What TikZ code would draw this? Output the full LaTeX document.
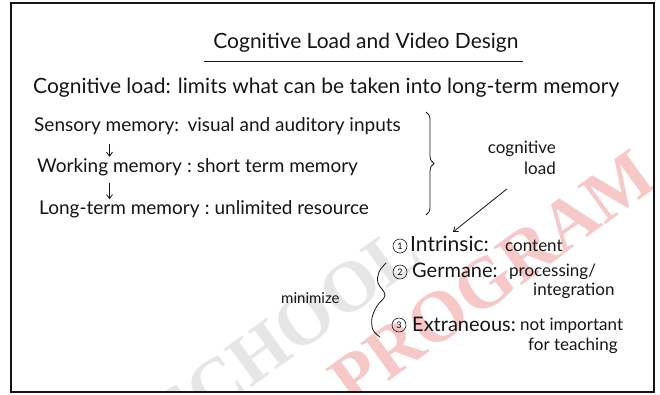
\documentclass[tikz,border=0pt]{standalone}
\usepackage{fontspec}
\setmainfont{Lato}
\newfontfamily\stampfont{Liberation Serif}
\usetikzlibrary{positioning,arrows.meta,decorations.pathreplacing}
\definecolor{ink}{HTML}{151515}
\definecolor{stampgrey}{HTML}{E6E6E6}
\definecolor{stampred}{HTML}{F7C8C8}

\begin{document}
\begin{tikzpicture}[x=1pt,y=-1pt,
    hand/.style={text=ink,inner sep=1pt,font=\fontsize{19}{22}\selectfont},
    big/.style={hand,font=\fontsize{21}{24}\selectfont},
    lab/.style={hand,font=\fontsize{20}{23}\selectfont},
    small/.style={hand,font=\fontsize{17}{21}\selectfont},
    num/.style={circle,draw=ink,line width=0.6pt,inner sep=0pt,minimum size=14pt,
                font=\fontsize{9}{9}\selectfont},
    arr/.style={draw=ink,line width=0.8pt,-{Straight Barb[length=4pt,width=6pt]}},
    pen/.style={draw=ink,line width=0.8pt},
    stamp/.style={font=\stampfont\bfseries\fontsize{72}{72}\selectfont,rotate=36}]
  \useasboundingbox (0,0) rectangle (660,394);

  % faint stamp behind the page, cut at the frame
  \begin{scope}
    \clip (11,3) rectangle (654,392);
    \node[stamp,text=stampgrey] (wmtop) at (287,333) {SCHOOL};
    \node[stamp,text=stampred] (wmbot) at (492,278) {PROGRAM};
  \end{scope}
  \draw[ink,line width=1.6pt] (11,3) rectangle (654,392);

  % heading
  \node[big,anchor=base] (title) at (366,48) {Cognitive Load and Video Design};
  \draw[pen] ([xshift=-8pt,yshift=-13pt]title.base west) -- ([xshift=3pt,yshift=-13pt]title.base east);

  \node[big,anchor=base west] (def) at (32,93)
    {Cognitive load: limits what can be taken into long-term memory};

  % the three memories, top to bottom
  \node[hand,anchor=base west] (sens) at (33,131) {Sensory memory:};
  \node[hand,base right=6pt of sens] (sensd) {visual and auditory inputs};
  \node[hand,anchor=base west] (work) at (36,172) {Working memory};
  \node[hand,base right=3pt of work] (workd) {:\ short term memory};
  \node[hand,anchor=base west] (long) at (38,214) {Long-term memory};
  \node[hand,base right=3pt of long] (longd) {:\ unlimited resource};
  \draw[arr,shorten <=9pt] (sens.south -| work.north) -- (work.north);
  \draw[arr,shorten <=6pt] (work.south) -- (work.south |- long.north);

  % brace over the three, pointing at the load label
  \coordinate (bt) at (426,112);
  \coordinate (bb) at (426,215);
  \draw[pen,decorate,decoration={brace,amplitude=8pt}] (bt) -- (bb);
  \node[small,align=right,anchor=north east] (cl) at (557,140) {cognitive\\load};
  \coordinate (tip) at (453,232);
  \draw[arr] ([xshift=-15pt,yshift=-13pt]cl.south) -- (tip);

  % the three kinds of load
  \node[num] (one) at (400,246) {1};
  \node[lab,font=\fontsize{21}{24}\selectfont,anchor=base west] (intr) at (409,251) {Intrinsic:};
  \node[small,anchor=base west] (cont) at (504,251) {content};
  \node[num] (two) at (400,272) {2};
  \node[lab,anchor=base west] (germ) at (411,277) {Germane:};
  \node[small,anchor=base west] (proc) at (508,276) {processing/};
  \node[small,anchor=base west] (integ) at (532,295) {integration};
  \node[num] (three) at (399,325) {3};
  \node[lab,anchor=base west] (extr) at (411,331) {Extraneous:};
  \node[small,anchor=base west] (notimp) at (519,330) {not important};
  \node[small,anchor=base west] (teach) at (527,350) {for teaching};

  % 2 and 3 are the ones to keep down
  \node[hand,font=\fontsize{15}{18}\selectfont,anchor=base west] (mini) at (280,303) {minimize};
  \draw[pen] plot[smooth,tension=0.6] coordinates
    {(386,263) (379,272) (378,283) (385,295) (377,306) (372,318) (373,330) (380,337)};
\end{tikzpicture}
\end{document}
